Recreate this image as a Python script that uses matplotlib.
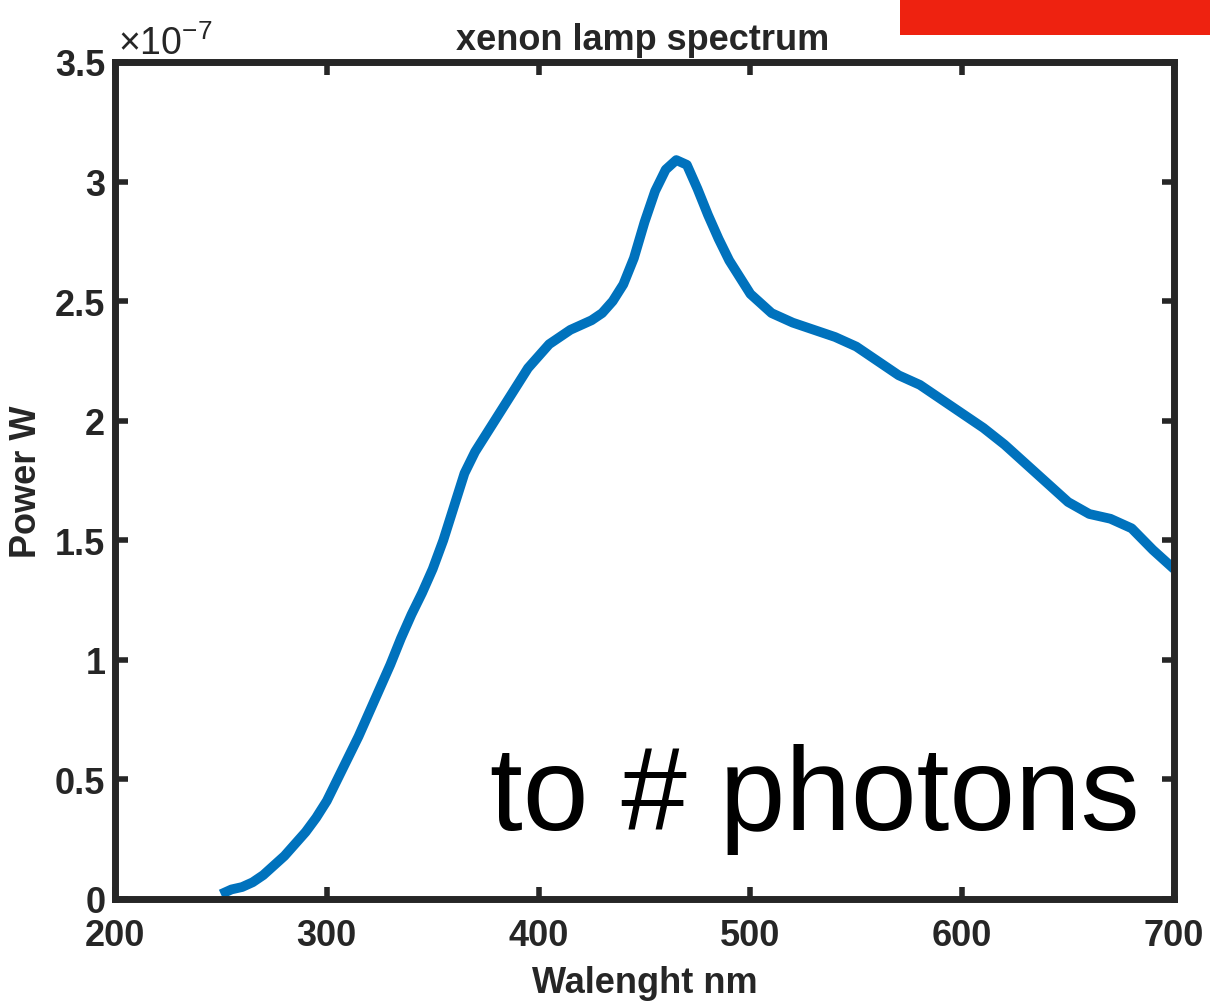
import matplotlib
matplotlib.use("Agg")
import matplotlib.pyplot as plt
from matplotlib.patches import Rectangle
import numpy as np

# Data (wavelength nm, power in units of 1e-7 W)
wavelength = [250, 255, 260, 265, 270, 275, 280, 285, 290, 295, 300, 305, 310, 315,
              320, 325, 330, 335, 340, 345, 350, 355, 360, 365, 370, 375, 380, 385,
              390, 395, 400, 405, 410, 415, 420, 425, 430, 435, 440, 445, 450, 455,
              460, 465, 470, 475, 480, 485, 490, 495, 500, 505, 510, 520, 530, 540,
              550, 560, 570, 580, 590, 600, 610, 620, 630, 640, 650, 660, 670, 680,
              690, 700]
power_e7 = [0.02, 0.04, 0.05, 0.07, 0.10, 0.14, 0.18, 0.23, 0.28, 0.34, 0.41, 0.50, 0.59, 0.68,
            0.78, 0.88, 0.98, 1.09, 1.19, 1.28, 1.38, 1.50, 1.64, 1.78, 1.87, 1.94, 2.01, 2.08,
            2.15, 2.22, 2.27, 2.32, 2.35, 2.38, 2.40, 2.42, 2.45, 2.50, 2.57, 2.68, 2.83, 2.96,
            3.05, 3.09, 3.07, 2.97, 2.86, 2.76, 2.67, 2.60, 2.53, 2.49, 2.45, 2.41, 2.38, 2.35,
            2.31, 2.25, 2.19, 2.15, 2.09, 2.03, 1.97, 1.90, 1.82, 1.74, 1.66, 1.61, 1.59, 1.55,
            1.46, 1.38]
x_ticks = [200, 300, 400, 500, 600, 700]
y_ticks_e7 = [0, 0.5, 1, 1.5, 2, 2.5, 3, 3.5]
y_tick_labels = ["0", "0.5", "1", "1.5", "2", "2.5", "3", "3.5"]

power = np.array(power_e7) * 1e-7
y_ticks = np.array(y_ticks_e7) * 1e-7

plt.rcParams['font.family'] = ['Liberation Sans', 'DejaVu Sans']
plt.rcParams['mathtext.fontset'] = 'custom'
plt.rcParams['mathtext.rm'] = 'Liberation Sans'

W, H = 1210, 1003
fig = plt.figure(figsize=(W / 100, H / 100), dpi=100)
ax = fig.add_axes([115 / W, 103 / H, 1059 / W, 837 / H])

ax.plot(wavelength, power, color='#0072BD', lw=7, solid_capstyle='butt',
        solid_joinstyle='round')

ax.set_xlim(200, 700)
ax.set_ylim(0, 3.5e-7)
ax.set_xticks(x_ticks)
ax.set_xticklabels([str(t) for t in x_ticks])
ax.set_yticks(y_ticks)
ax.set_yticklabels(y_tick_labels)

spine_color = '#262626'
for s in ax.spines.values():
    s.set_linewidth(5)
    s.set_color(spine_color)
ax.tick_params(direction='in', length=9, width=4, color=spine_color,
               top=True, right=True, labelsize=26, labelcolor=spine_color)
ax.tick_params(axis='x', pad=14)
ax.tick_params(axis='y', pad=7)
for lab in ax.get_xticklabels() + ax.get_yticklabels():
    lab.set_fontweight('bold')

ax.set_xlabel('Walenght nm', fontsize=26, fontweight='bold', color=spine_color, labelpad=8)
ax.set_ylabel('Power W', fontsize=26, fontweight='bold', color=spine_color, labelpad=8)

# title
fig.text(643 / W, 1 - 50 / H, 'xenon lamp spectrum', ha='center', va='baseline',
         fontsize=26, fontweight='bold', color=spine_color)

# exponent marker
fig.text(118 / W, 1 - 55 / H, r'$\times10^{\mathregular{-7}}$', ha='left', va='baseline',
         fontsize=27, color=spine_color)

# overlay annotation text
fig.text(490 / W, 1 - 830 / H, 'to # photons', ha='left', va='baseline',
         fontsize=85, color='black')

# red bar at top right
fig.patches.append(Rectangle((900 / W, 1 - 36 / H), 310 / W, 36 / H,
                             transform=fig.transFigure, facecolor='#EE2210',
                             edgecolor='none', figure=fig))

fig.savefig('out.png', dpi=100)
